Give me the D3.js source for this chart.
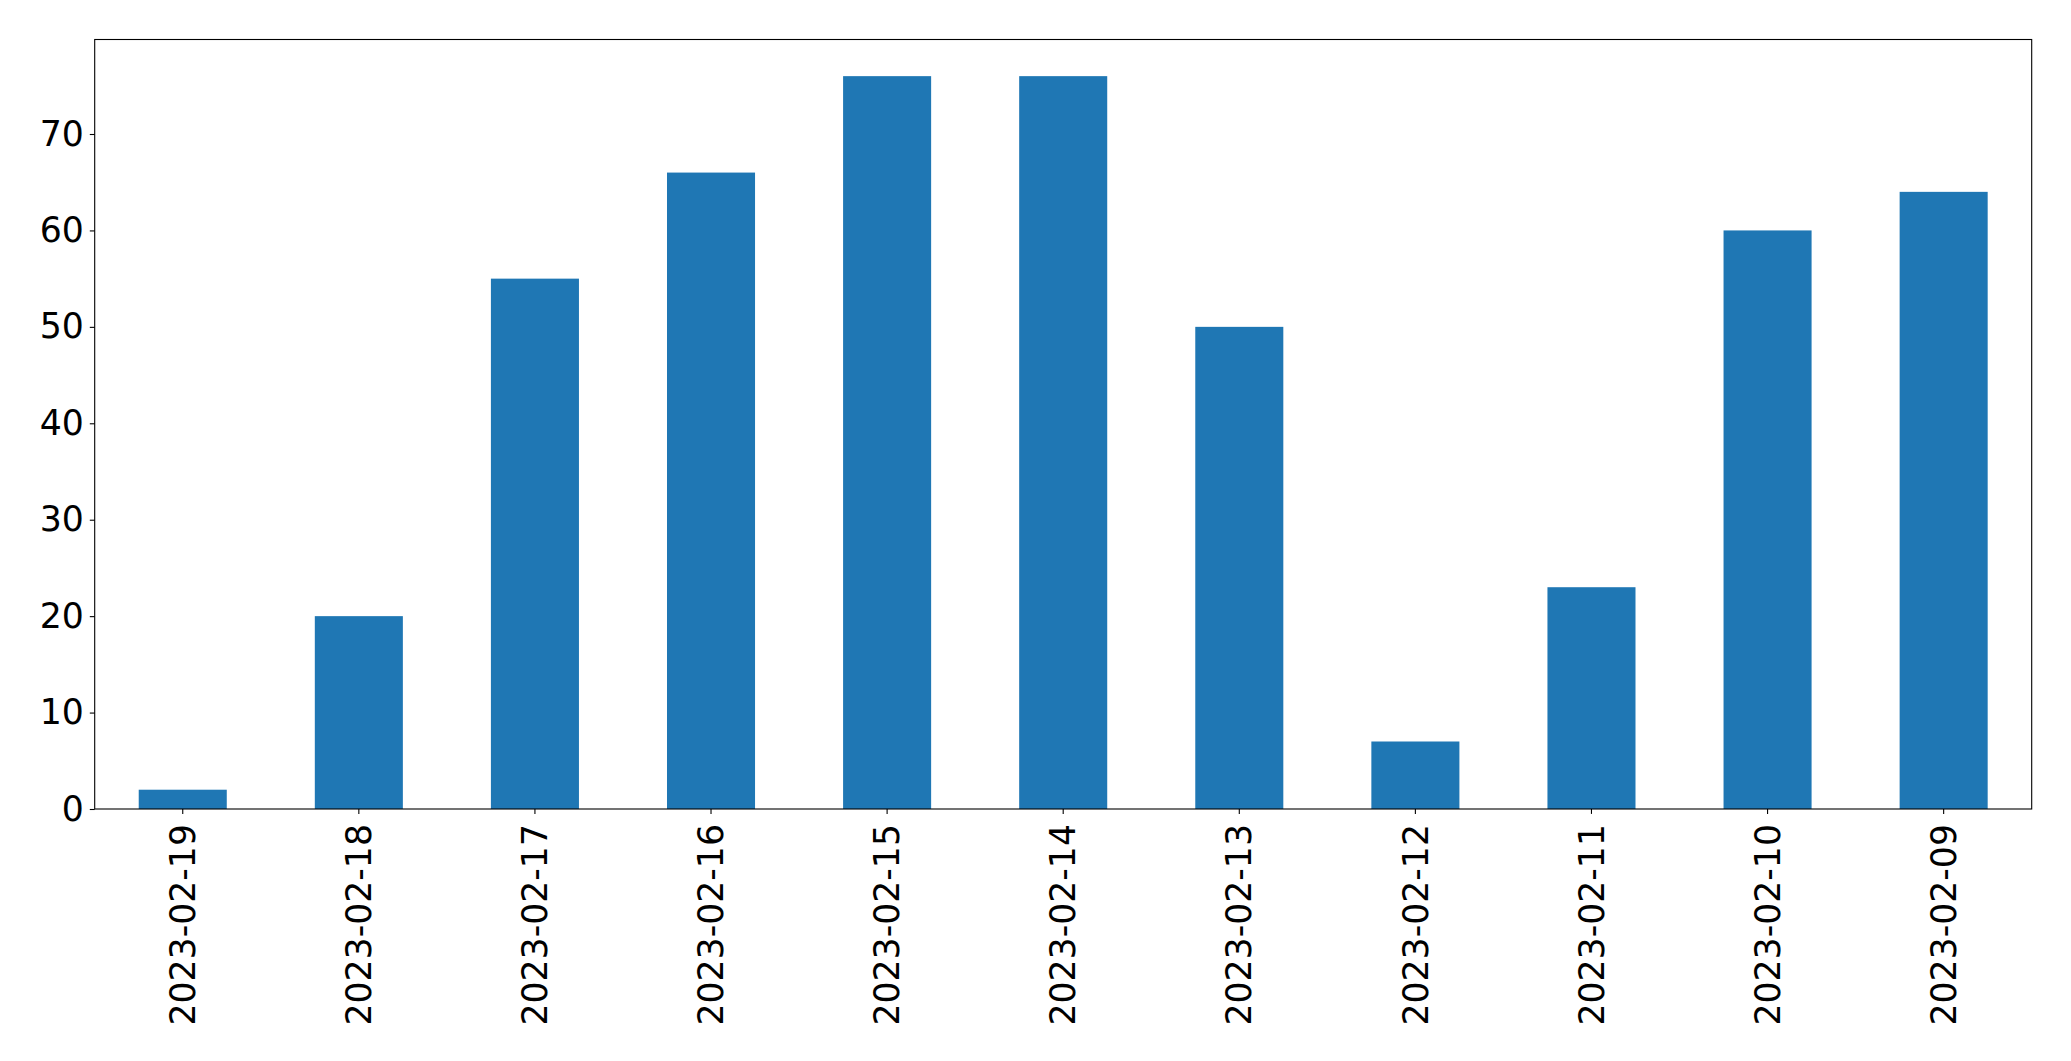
<!DOCTYPE html>
<html><head><meta charset="utf-8">
<script src="https://cdn.jsdelivr.net/npm/d3@7"></script>
<style>html,body{margin:0;padding:0;background:#fff;}svg{display:block;}</style>
</head><body>
<script>
const categories = ["2023-02-19","2023-02-18","2023-02-17","2023-02-16","2023-02-15","2023-02-14","2023-02-13","2023-02-12","2023-02-11","2023-02-10","2023-02-09"];
const values = [2, 20, 55, 66, 76, 76, 50, 7, 23, 60, 64];
const yTicks = [0, 10, 20, 30, 40, 50, 60, 70];

const W = 2071, H = 1061;
const m = {left: 94.7, right: 2031.7, top: 39.5, bottom: 809};
const svg = d3.select("body").append("svg").attr("width", W).attr("height", H);

const x = d3.scaleBand().domain(categories).range([m.left, m.right]).paddingInner(0.5).paddingOuter(0.25);
const ymax = d3.max(values) * 1.05;
const y = d3.scaleLinear().domain([0, ymax]).range([m.bottom, m.top]);

svg.append("g").selectAll("rect").data(values).join("rect")
  .attr("x", (d, i) => x(categories[i]))
  .attr("width", x.bandwidth())
  .attr("y", d => y(d))
  .attr("height", d => y(0) - y(d))
  .attr("fill", "#1f77b4");

const font = "DejaVu Sans";
const fs = 34.7;

const yAxis = svg.append("g").attr("transform", `translate(${m.left},0)`)
  .call(d3.axisLeft(y).tickValues(yTicks).tickSize(4.9).tickPadding(6));
yAxis.select(".domain").remove();
yAxis.selectAll("line").attr("stroke", "#000").attr("stroke-width", 1.1);
yAxis.selectAll("text").attr("font-family", font).attr("font-size", fs).attr("fill", "#000");

const xAxis = svg.append("g").attr("transform", `translate(0,${m.bottom})`)
  .call(d3.axisBottom(x).tickSize(4.9).tickSizeOuter(0));
xAxis.select(".domain").remove();
xAxis.selectAll("line").attr("stroke", "#000").attr("stroke-width", 1.1);
xAxis.selectAll("text")
  .attr("font-family", font).attr("font-size", fs).attr("fill", "#000")
  .attr("transform", "rotate(-90)")
  .attr("x", -15).attr("y", 0).attr("dy", "0.35em")
  .attr("text-anchor", "end");

svg.append("rect").attr("x", m.left).attr("y", m.top)
  .attr("width", m.right - m.left).attr("height", m.bottom - m.top)
  .attr("fill", "none").attr("stroke", "#000").attr("stroke-width", 1.1);
</script>
</body></html>
